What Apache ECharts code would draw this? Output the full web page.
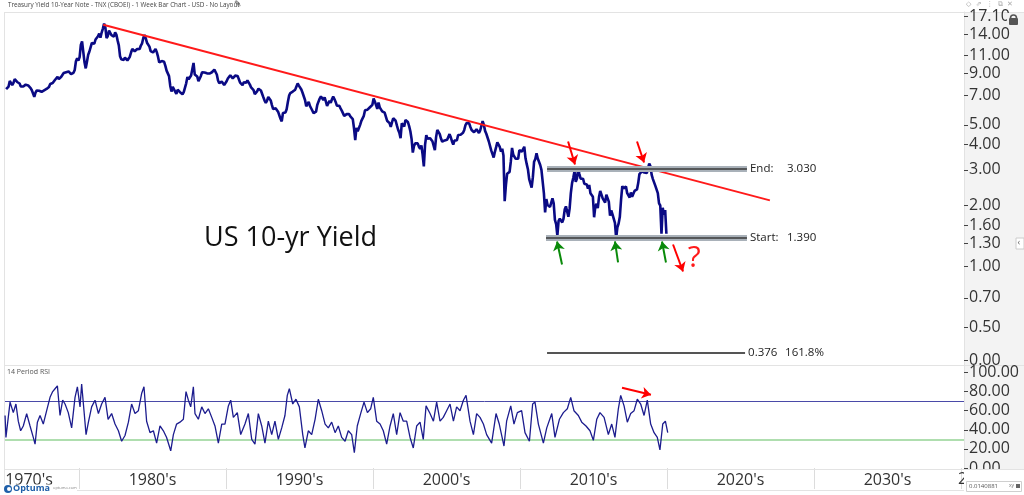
<!DOCTYPE html>
<html><head><meta charset="utf-8">
<script src="https://cdn.jsdelivr.net/npm/echarts@6/dist/echarts.min.js"></script>
<style>html,body{margin:0;padding:0;background:#fff}#c{width:1024px;height:495px}</style>
</head><body><div id="c"></div>
<script>
// ---------------- DATA ----------------
const priceStartYear = 1975; // monthly values, Jan 1975 ... Dec 2019
const priceValues = [
7.50,7.39,7.73,8.23,8.06,7.86,8.06,8.40,8.43,8.14,8.05,8.00,
7.74,7.79,7.73,7.56,7.90,7.86,7.83,7.77,7.59,7.41,7.29,6.87,
7.21,7.39,7.46,7.37,7.46,7.28,7.33,7.40,7.34,7.52,7.58,7.69,
7.96,8.03,8.04,8.15,8.35,8.46,8.64,8.41,8.42,8.64,8.81,9.01,
9.10,9.10,9.12,9.18,9.25,8.91,8.95,9.03,9.33,10.30,10.65,10.39,
10.80,12.41,12.90,11.47,10.18,9.50,10.25,11.10,11.51,11.75,12.68,12.84,
12.57,13.19,13.12,13.68,14.10,13.47,14.28,14.94,15.80,15.15,13.39,13.72,
14.59,14.43,13.86,13.87,13.62,14.30,13.95,13.06,12.34,10.91,10.55,10.54,
10.46,10.72,10.51,10.40,10.38,10.85,11.38,11.85,11.65,11.54,11.69,11.83,
11.67,11.84,12.32,12.63,13.41,13.90,13.36,12.72,12.52,12.16,11.57,11.50,
11.38,11.51,11.86,11.43,10.85,10.16,10.31,10.33,10.37,10.24,9.78,9.26,
9.19,8.70,7.78,7.30,7.71,7.80,7.30,7.10,7.45,7.43,7.25,7.11,
7.08,7.25,7.25,8.02,8.61,8.40,8.45,8.76,9.42,10.10,8.86,8.99,
8.67,8.21,8.37,8.72,9.09,8.92,9.06,9.26,8.98,8.80,8.96,9.11,
9.09,9.17,9.36,9.18,8.86,8.28,8.02,8.11,8.19,8.01,7.87,7.84,
8.21,8.47,8.59,8.79,8.76,8.48,8.47,8.75,8.89,8.72,8.39,8.08,
8.09,7.85,8.11,8.04,8.07,8.28,8.27,7.90,7.65,7.53,7.42,7.09,
7.03,7.34,7.54,7.48,7.39,7.26,6.84,6.59,6.42,6.59,6.87,6.77,
6.60,6.26,5.98,5.97,6.04,5.96,5.81,5.68,5.36,5.20,5.72,5.77,
5.75,5.97,6.48,6.97,7.18,7.10,7.30,7.24,7.46,7.74,8.00,7.81,
7.78,7.47,7.20,7.06,6.63,6.17,6.28,6.49,6.20,6.04,5.93,5.71,
5.65,5.81,6.27,6.51,6.74,6.91,6.87,6.64,6.83,6.53,6.20,6.30,
6.58,6.42,6.69,6.89,6.71,6.49,6.22,6.30,6.21,6.03,5.88,5.81,
5.54,5.57,5.65,5.64,5.65,5.50,5.46,5.34,4.81,4.20,4.83,4.65,
4.72,5.00,5.23,5.18,5.54,5.90,5.79,5.94,5.92,6.11,6.03,6.28,
6.75,6.52,6.26,5.99,6.44,6.10,6.05,5.83,5.80,5.74,5.72,5.24,
5.16,5.10,4.89,5.14,5.39,5.28,5.24,4.97,4.73,4.57,4.30,5.09,
5.04,4.91,5.28,5.21,5.16,4.93,4.65,4.26,3.65,3.94,4.05,4.03,
4.05,3.90,3.81,3.96,3.57,3.12,3.98,4.45,4.27,4.29,4.30,4.27,
4.15,4.08,3.75,4.35,4.72,4.73,4.50,4.28,4.13,4.10,4.19,4.23,
4.22,4.17,4.50,4.34,4.14,4.00,4.18,4.26,4.20,4.46,4.54,4.47,
4.42,4.57,4.72,4.99,5.11,5.15,5.09,4.88,4.72,4.73,4.60,4.56,
4.76,4.72,4.56,4.69,4.75,5.22,5.00,4.67,4.52,4.53,4.15,4.10,
3.74,3.74,3.45,3.68,3.88,4.10,4.01,3.89,3.69,3.81,3.53,2.10,
2.52,2.87,2.82,2.93,3.29,3.85,3.56,3.59,3.40,3.39,3.40,3.75,
3.73,3.69,3.73,3.90,3.42,3.20,3.01,2.70,2.65,2.45,2.76,3.29,
3.39,3.62,3.41,3.46,3.17,3.00,3.00,2.30,1.85,2.15,2.01,1.98,
1.97,1.97,2.17,2.05,1.70,1.62,1.42,1.68,1.72,1.75,1.65,1.72,
1.91,1.98,1.96,1.76,1.93,2.30,2.58,2.74,2.95,2.62,2.72,3.03,
2.86,2.71,2.72,2.71,2.56,2.60,2.54,2.42,2.53,2.30,2.33,2.21,
1.75,1.98,2.04,1.94,2.20,2.36,2.32,2.17,2.17,2.07,2.26,2.24,
2.09,1.78,1.89,1.81,1.81,1.64,1.38,1.56,1.63,1.76,2.14,2.49,
2.43,2.42,2.48,2.30,2.30,2.19,2.32,2.21,2.20,2.36,2.35,2.40,
2.58,2.86,2.84,2.95,2.98,2.91,2.89,2.89,3.05,3.22,3.12,2.83,
2.70,2.66,2.50,2.55,2.30,2.05,2.00,1.45,1.95,1.80,1.90,1.45
];
const rsiSeries = [
[1974.97,55],[1975.03,32],[1975.31,69],[1975.53,58],[1975.71,67],[1975.87,49],[1976.03,39],[1976.21,44],[1976.44,57],[1976.67,44],[1976.89,32],
[1977.01,25],[1977.17,48],[1977.35,55],[1977.57,46],[1977.80,60],[1978.03,74],[1978.21,80],[1978.37,83],[1978.53,86],[1978.71,55],[1978.89,71],
[1979.05,67],[1979.27,58],[1979.50,42],[1979.73,74],[1979.89,85],[1980.07,64],[1980.18,88],[1980.34,60],[1980.48,35],[1980.64,48],[1980.86,64],
[1981.09,71],[1981.32,57],[1981.54,67],[1981.77,74],[1981.98,51],[1982.22,57],[1982.45,46],[1982.68,39],[1982.90,28],[1983.13,34],[1983.36,48],
[1983.58,67],[1983.81,57],[1984.04,60],[1984.26,78],[1984.42,85],[1984.60,49],[1984.83,37],[1985.06,39],[1985.28,26],[1985.51,44],[1985.74,39],
[1985.96,32],[1986.24,18],[1986.42,35],[1986.64,46],[1986.87,48],[1987.10,51],[1987.28,80],[1987.44,71],[1987.60,64],[1987.78,85],[1987.89,57],
[1988.12,51],[1988.35,64],[1988.57,57],[1988.80,62],[1989.03,53],[1989.25,44],[1989.48,26],[1989.71,46],[1989.93,46],[1990.16,65],[1990.32,71],
[1990.50,53],[1990.77,58],[1991.00,35],[1991.29,46],[1991.52,57],[1991.75,30],[1991.97,25],[1992.20,57],[1992.43,44],[1992.65,26],[1992.88,49],
[1993.11,35],[1993.33,49],[1993.56,30],[1993.79,42],[1994.01,55],[1994.17,76],[1994.31,83],[1994.54,67],[1994.76,72],[1994.99,64],[1995.22,35],
[1995.37,21],[1995.60,39],[1995.83,35],[1996.06,51],[1996.28,72],[1996.51,60],[1996.74,46],[1996.96,42],[1997.19,48],[1997.42,37],[1997.64,44],
[1997.87,32],[1998.10,28],[1998.32,39],[1998.55,35],[1998.73,16],[1998.93,44],[1999.16,57],[1999.39,69],[1999.62,58],[1999.84,62],[2000.02,74],
[2000.25,49],[2000.48,46],[2000.70,39],[2000.93,25],[2001.16,44],[2001.38,57],[2001.61,35],[2001.84,58],[2002.06,49],[2002.29,49],[2002.52,32],
[2002.74,21],[2002.97,44],[2003.20,48],[2003.42,30],[2003.61,65],[2003.88,57],[2004.11,49],[2004.33,69],[2004.56,49],[2004.78,53],[2005.01,60],
[2005.24,67],[2005.47,49],[2005.69,64],[2005.92,60],[2006.15,71],[2006.33,76],[2006.60,49],[2006.83,35],[2007.05,57],[2007.28,53],[2007.51,46],
[2007.73,35],[2008.07,26],[2008.37,57],[2008.59,46],[2008.91,23],[2009.09,49],[2009.37,65],[2009.59,46],[2009.82,58],[2010.11,60],[2010.34,37],
[2010.64,28],[2010.86,67],[2011.02,69],[2011.25,46],[2011.59,26],[2011.82,42],[2012.16,57],[2012.38,32],[2012.68,51],[2012.95,58],[2013.22,62],
[2013.45,74],[2013.67,60],[2013.97,55],[2014.20,48],[2014.49,44],[2014.76,39],[2014.99,29],[2015.22,51],[2015.44,58],[2015.72,53],[2016.01,35],
[2016.24,46],[2016.46,32],[2016.69,62],[2016.85,76],[2017.08,65],[2017.30,48],[2017.53,57],[2017.76,60],[2017.98,72],[2018.21,67],[2018.44,55],
[2018.66,71],[2018.89,46],[2019.12,37],[2019.34,32],[2019.52,19],[2019.71,46],[2019.89,49],[2020.05,37]
];
const yTickValues = [17.1,14,11,9,7,5,4,3,2,1.6,1.3,1,0.7,0.5,0.345];
const yTickLabels = ['17.10','14.00','11.00','9.00','7.00','5.00','4.00','3.00','2.00','1.60','1.30','1.00','0.70','0.50','0.00'];
const rsiTickValues = [0,20,40,60,80,100];
const decadeBounds = [1980,1990,2000,2010,2020,2030,2040];
const decadeLabelPos = [1976.6,1985,1995,2005,2015,2025,2035];
const trendLine = [[1981.65,15.6],[2027.0,2.12]];
const levelLines = [
  {name:'End:', text:'3.030', value:3.03, from:2011.84, to:2025.44, band:true},
  {name:'Start:', text:'1.390', value:1.39, from:2011.77, to:2025.44, band:true},
  {name:'0.376', text:'161.8%', value:0.376, from:2011.84, to:2025.31, band:false}
];
const redArrows = [[[2013.27,4.14],[2013.74,3.19]],[[2017.96,4.14],[2018.44,3.26]],[[2020.41,1.284],[2021.09,0.945]]];
const greenArrows = [[[2012.86,1.023],[2012.52,1.329]],[[2016.67,1.047],[2016.46,1.329]],[[2019.93,1.047],[2019.66,1.329]]];
const questionMark = [2021.85,1.09];
const rsiArrow = [[2016.94,84],[2018.91,76.6]];
const rsiLevels = [70,30];

// ---------------- BUILD ----------------
const L = Math.log;
const xMin = 1974.966, xMax = 2040.204;
const priceData = priceValues.map((v,i)=>[priceStartYear + (i+0.5)/12, L(v)]);
const yTickLn = yTickValues.map(L);
const FONT = 'Open Sans';
const lvlRich = {n:{width:37,fontSize:11.5,fontFamily:FONT,color:'#222'},v:{fontSize:11.5,fontFamily:FONT,color:'#222'}};

const mark = [];
mark.push([{coord:[trendLine[0][0],L(trendLine[0][1])], lineStyle:{color:'#ff1a1a',width:2,type:'solid'}},{coord:[trendLine[1][0],L(trendLine[1][1])]}]);
levelLines.forEach(l=>{
  if(l.band){
    mark.push([{coord:[l.from,L(l.value)], lineStyle:{color:'#a9b1b9',width:6,type:'solid'}},{coord:[l.to,L(l.value)]}]);
    mark.push([{coord:[l.from,L(l.value)], lineStyle:{color:'#3a3a3a',width:1.5,type:'solid'},
      label:{show:true,position:'end',distance:3,formatter:'{n|'+l.name+'}{v|'+l.text+'}',rich:lvlRich}},
      {coord:[l.to,L(l.value)]}]);
  } else {
    mark.push([{coord:[l.from,L(l.value)], lineStyle:{color:'#555',width:2,type:'solid'},
      label:{show:true,position:'end',distance:3,formatter:'{n|'+l.name+'}{v|'+l.text+'}',rich:lvlRich}},
      {coord:[l.to,L(l.value)]}]);
  }
});
redArrows.forEach(a=>mark.push([{coord:[a[0][0],L(a[0][1])],symbol:'none',lineStyle:{color:'#ff0000',width:2,type:'solid'}},{coord:[a[1][0],L(a[1][1])],symbol:'arrow',symbolSize:9}]));
greenArrows.forEach(a=>mark.push([{coord:[a[0][0],L(a[0][1])],symbol:'none',lineStyle:{color:'#0a8a0a',width:2,type:'solid'}},{coord:[a[1][0],L(a[1][1])],symbol:'arrow',symbolSize:9}]));

const chart = echarts.init(document.getElementById('c'), null, {renderer:'canvas'});
const option = {
  animation:false,
  backgroundColor:'#fff',
  grid:[
    {left:5, top:12, width:959, height:353},
    {left:5, top:366, width:959, height:103}
  ],
  xAxis:[
    {gridIndex:0,type:'value',min:xMin,max:xMax,show:false},
    {gridIndex:1,type:'value',min:xMin,max:xMax,z:20,
      axisLine:{show:false},
      axisTick:{show:true,customValues:decadeBounds,length:21,inside:false,lineStyle:{color:'#dcdcdc',width:1}},
      axisLabel:{customValues:decadeLabelPos,formatter:v=>Math.floor(v/10)*10+"'s",fontSize:16,fontFamily:FONT,color:'#333',margin:3},
      splitLine:{show:false}}
  ],
  yAxis:[
    {gridIndex:0,type:'value',position:'right',min:L(0.3265),max:L(18.03),z:5,
      axisLine:{show:true,lineStyle:{color:'#e2e2e2'}},
      axisTick:{show:true,customValues:yTickLn,length:4,lineStyle:{color:'#444'}},
      axisLabel:{customValues:yTickLn,margin:5,fontSize:16,fontFamily:FONT,color:'#333',
        formatter:v=>{const i=yTickLn.findIndex(t=>Math.abs(t-v)<1e-6);return i>=0?yTickLabels[i]:'';}},
      splitLine:{show:false}},
    {gridIndex:1,type:'value',position:'right',min:-1.05,max:106.8,z:5,
      axisLine:{show:true,lineStyle:{color:'#e2e2e2'}},
      axisTick:{show:true,customValues:rsiTickValues,length:4,lineStyle:{color:'#444'}},
      axisLabel:{customValues:rsiTickValues,margin:5,fontSize:16,fontFamily:FONT,color:'#333',formatter:v=>v.toFixed(2)},
      splitLine:{show:false}}
  ],
  series:[
    {type:'line',xAxisIndex:0,yAxisIndex:0,data:priceData,showSymbol:false,symbol:'none',
      lineStyle:{color:'#0a0a84',width:2.6},z:3,
      markLine:{silent:true,symbol:'none',animation:false,data:mark,z:4},
      markPoint:{silent:true,animation:false,data:[{coord:[questionMark[0],L(questionMark[1])],symbol:'circle',symbolSize:1,
        itemStyle:{color:'rgba(0,0,0,0)'},label:{show:true,position:'inside',formatter:'?',fontSize:30,fontFamily:FONT,color:'#ff1a1a'}}]}},
    {type:'line',xAxisIndex:1,yAxisIndex:1,data:rsiSeries,showSymbol:false,symbol:'none',
      lineStyle:{color:'#1c1c8e',width:1.3},z:3,
      markLine:{silent:true,symbol:'none',animation:false,z:2,data:[
        {yAxis:rsiLevels[0],lineStyle:{color:'#4a4aa8',width:1,type:'solid'},label:{show:false}},
        {yAxis:rsiLevels[1],lineStyle:{color:'#94d394',width:1.5,type:'solid'},label:{show:false}},
        [{coord:rsiArrow[0],symbol:'none',lineStyle:{color:'#ff0000',width:2,type:'solid'},label:{show:false}},{coord:rsiArrow[1],symbol:'arrow',symbolSize:9}]
      ]}}
  ],
  graphic:[
    {type:'rect',z:-10,shape:{x:964,y:12,width:60,height:457},style:{fill:'#f3f3f3'}},
    {type:'line',z:-5,shape:{x1:4,y1:12.5,x2:1024,y2:12.5},style:{stroke:'#e3e3e3',lineWidth:1}},
    {type:'line',z:-5,shape:{x1:4.5,y1:12,x2:4.5,y2:490},style:{stroke:'#e3e3e3',lineWidth:1}},
    {type:'line',z:-5,shape:{x1:4,y1:365.5,x2:1024,y2:365.5},style:{stroke:'#e3e3e3',lineWidth:1}},
    {type:'rect',z:50,shape:{x:964,y:469.5,width:60,height:26},style:{fill:'#ffffff'}},
    {type:'line',z:51,shape:{x1:4,y1:469.5,x2:1024,y2:469.5},style:{stroke:'#e3e3e3',lineWidth:1}},
    {type:'line',z:51,shape:{x1:4,y1:490.5,x2:964,y2:490.5},style:{stroke:'#e3e3e3',lineWidth:1}},
    {type:'text',z:30,left:8,top:2,style:{text:'Treasury Yield 10-Year Note - TNX (CBOEI) - 1 Week Bar Chart - USD - No Layout',fontSize:6.3,fontFamily:FONT,fill:'#444'}},
    {type:'text',z:30,left:234,top:0,style:{text:'\u270E',fontSize:9,fontFamily:'DejaVu Sans',fill:'#444'}},
    {type:'text',z:30,left:966,top:1,style:{text:'\u25C7  \u21D7  \u22EE  \u29C9  \u2715',fontSize:7,fontFamily:'DejaVu Sans',fill:'#aaa'}},
    {type:'rect',z:55,shape:{x:1007,y:13,width:17,height:14},style:{fill:'#f3f3f3'}},
    {type:'arc',z:56,shape:{cx:1013.5,cy:18,r:3,startAngle:Math.PI,endAngle:2*Math.PI},style:{stroke:'#555',lineWidth:1.6,fill:null}},
    {type:'rect',z:56,shape:{x:1009,y:18,width:9,height:7,r:1},style:{fill:'#555'}},
    {type:'rect',z:56,shape:{x:1016,y:238,width:8,height:11},style:{fill:'#fff',stroke:'#ccc',lineWidth:1}},
    {type:'text',z:57,left:1017.5,top:238,style:{text:'\u2039',fontSize:9,fontFamily:FONT,fill:'#666'}},
    {type:'text',z:30,left:7,top:368,style:{text:'14 Period RSI',fontSize:7,fontFamily:FONT,fill:'#555'}},
    {type:'text',z:30,left:204,top:225,style:{text:'US 10-yr Yield',fontSize:27,fontFamily:FONT,fill:'#111'}},
    {type:'text',z:30,left:958,top:471,style:{text:'2',fontSize:16,fontFamily:FONT,fill:'#333'}},
    {type:'rect',z:60,shape:{x:966.5,y:481.5,width:55,height:10},style:{fill:'#fff',stroke:'#cfcfcf',lineWidth:1}},
    {type:'text',z:61,left:969,top:483,style:{text:'0.0140881',fontSize:6,fontFamily:FONT,fill:'#555'}},
    {type:'text',z:61,left:1009,top:483,style:{text:'xy',fontSize:5,fontFamily:FONT,fill:'#777'}},
    {type:'rect',z:61,shape:{x:1016,y:484,width:4,height:4},style:{fill:'#666'}},
    {type:'rect',z:60,shape:{x:0,y:484.5,width:77,height:11},style:{fill:'#fff'}},
    {type:'circle',z:61,shape:{cx:8,cy:489,r:4},style:{fill:'#1f5fa9'}},
    {type:'circle',z:62,shape:{cx:9,cy:489,r:2},style:{fill:'#fff'}},
    {type:'text',z:61,left:13,top:484,style:{text:'Optuma',fontSize:9,fontWeight:'bold',fontFamily:FONT,fill:'#1f5fa9'}},
    {type:'text',z:61,left:53,top:486,style:{text:'optuma.com',fontSize:4,fontFamily:FONT,fill:'#888'}}
  ]
};
chart.setOption(option);
</script></body></html>
